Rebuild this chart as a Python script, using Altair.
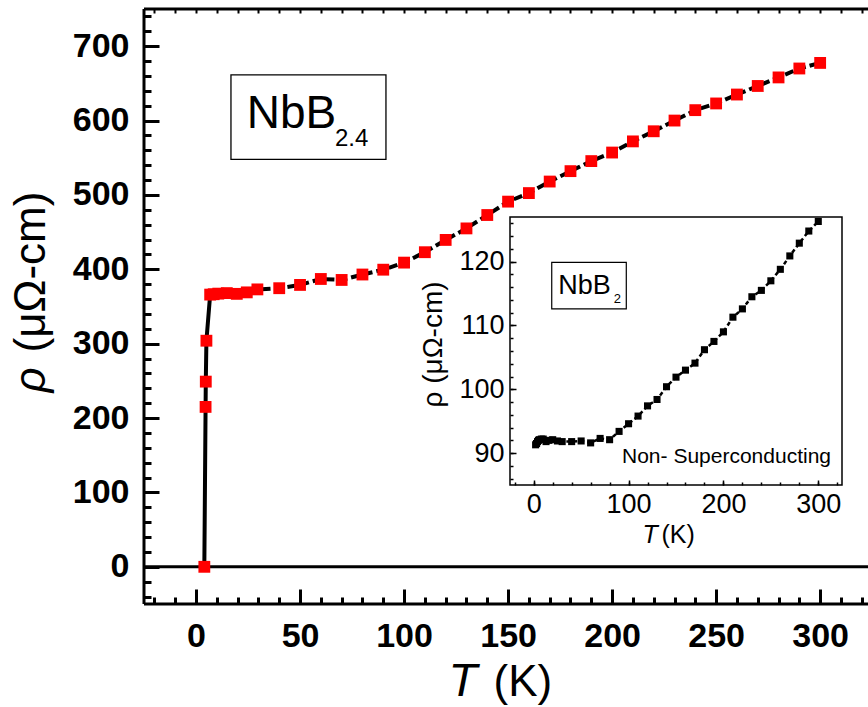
import altair as alt
import pandas as pd

FONT = "Liberation Sans"

# ---------------- data: main sample NbB2.4 ----------------
main_T = [4.0, 4.6, 4.7, 5.0, 6.8, 8.5, 10.7, 14.8, 19.6, 24.4, 29.5,
          40, 50, 60, 70, 80, 90, 100, 110, 120, 130, 140, 150, 160, 170,
          180, 190, 200, 210, 220, 230, 240, 250, 260, 270, 280, 290, 300]
main_rho = [0, 215, 249, 304, 366, 366.5, 367.3, 368, 367, 369, 373,
            374.6, 379, 387, 385.7, 393, 399.5, 409, 423, 439.5, 455, 473, 491, 502.5, 518,
            532, 545.5, 557, 572, 585.6, 600, 614, 623, 635, 646.5, 658, 670, 677.5]

# ---------------- data: inset NbB2 ----------------
inset_T = [2, 3, 4, 5, 6, 8, 10, 13, 16, 20, 25,
           30, 40, 50, 60, 70, 80, 90, 100, 110, 120, 130, 140, 150, 160,
           170, 180, 190, 200, 210, 220, 230, 240, 250, 260, 270, 280, 290, 300]
inset_rho = [91.3, 91.5, 91.8, 92.0, 92.1, 92.2, 92.2, 91.8, 92.0, 92.1, 91.9,
             91.8, 91.8, 91.9, 91.6, 92.3, 92.1, 93.4, 94.6, 95.8, 97.4, 98.4, 100.4, 101.9, 103.0,
             104.1, 106.2, 107.5, 109.0, 111.3, 112.6, 114.5, 115.5, 117.0, 118.8, 120.9, 122.9, 124.8, 126.3]

# ---------------- ticks ----------------
main_x_major = [0, 50, 100, 150, 200, 250, 300]
main_x_minor = list(range(-20, 330, 10))
main_y_major = [0, 100, 200, 300, 400, 500, 600, 700]
main_y_minor = list(range(-40, 750, 20))
inset_x_major = [0, 100, 200, 300]
inset_x_minor = list(range(-20, 330, 20))
inset_y_major = [90, 100, 110, 120]
inset_y_minor = list(range(86, 128, 2))

W, H = 724, 595

MX = alt.Scale(domain=[-25, 323], nice=False, zero=False)
MY = alt.Scale(domain=[-50, 750], nice=False, zero=False)
IX = alt.Scale(domain=[-25, 325], range=[366, 698], nice=False, zero=False)
IY = alt.Scale(domain=[85, 127], range=[476, 208], nice=False, zero=False)

main_df = pd.DataFrame({"T": main_T, "rho": main_rho})
trans_df = main_df.iloc[:5]
dash_df = main_df.iloc[4:]
inset_df = pd.DataFrame({"T": inset_T, "rho": inset_rho})
one = pd.DataFrame({"a": [0]})

common = dict(grid=False, domain=False, tickColor="black", labelColor="black",
              labelFont=FONT, titleFont=FONT, titleColor="black", zindex=1,
              labelFlush=False, labelOverlap=False, format="d")

# main axes
ax_mx_major = alt.Axis(orient="bottom", offset=-15, tickSize=15, tickWidth=3, values=main_x_major,
                       labelFontSize=34, labelFontWeight="bold", labelPadding=15,
                       title="T", titleFontSize=47, titleFontStyle="italic", titleFontWeight="normal",
                       titleX=304, titleY=106, titleAlign="left", titleBaseline="alphabetic", **common)
ax_mx_minor = alt.Axis(orient="bottom", offset=-7, tickSize=7, tickWidth=3, values=main_x_minor,
                       labels=False, title="(K)", titleFontSize=44, titleFontWeight="normal",
                       titleX=349, titleY=98, titleAlign="left", titleBaseline="alphabetic", **common)
ax_mx_top = alt.Axis(orient="top", offset=-4, tickSize=4, tickWidth=2, values=main_x_minor,
                     labels=False, title="", **common)
ax_my_major = alt.Axis(orient="left", offset=-15, tickSize=15, tickWidth=3, values=main_y_major,
                       labelFontSize=34, labelFontWeight="bold", labelPadding=15,
                       title="ρ", titleFontSize=44, titleFontStyle="italic", titleFontWeight="normal",
                       titleAngle=270, titleX=-115, titleY=383, titleAlign="left",
                       titleBaseline="alphabetic", **common)
ax_my_minor = alt.Axis(orient="left", offset=-7, tickSize=7, tickWidth=3, values=main_y_minor,
                       labels=False, title="(μΩ-cm)", titleFontSize=44, titleFontWeight="normal",
                       titleAngle=270, titleX=-107, titleY=343, titleAlign="left",
                       titleBaseline="alphabetic", **common)

# inset axes
ax_ix_major = alt.Axis(orient="bottom", offset=-124, tickSize=5, tickWidth=1.5, values=inset_x_major,
                       labelFontSize=27, labelFontWeight="normal", labelPadding=6,
                       title="T", titleFontSize=25, titleFontStyle="italic", titleFontWeight="normal",
                       titleX=498, titleY=62, titleAlign="left", titleBaseline="alphabetic", **common)
ax_ix_minor = alt.Axis(orient="bottom", offset=-122, tickSize=3, tickWidth=1.5, values=inset_x_minor,
                       labels=False, title="(K)", titleFontSize=25, titleFontWeight="normal",
                       titleX=517, titleY=60, titleAlign="left", titleBaseline="alphabetic", **common)
ax_iy_major = alt.Axis(orient="left", offset=-372, tickSize=6, tickWidth=1.5, values=inset_y_major,
                       labelFontSize=27, labelFontWeight="normal", labelPadding=6,
                       title="ρ (μΩ-cm)", titleFontSize=28, titleFontWeight="normal",
                       titleAngle=270, titleX=-75, titleY=335, titleAlign="center",
                       titleBaseline="alphabetic", **common)
ax_iy_minor = alt.Axis(orient="left", offset=-369, tickSize=3, tickWidth=1.5, values=inset_y_minor,
                       labels=False, title="", **common)

layers = []

# frame of the main panel
layers.append(alt.Chart(one).mark_rule(color="black", strokeWidth=3).encode(
    y=alt.Y(datum=-50, scale=MY, axis=None)))
layers.append(alt.Chart(one).mark_rule(color="black", strokeWidth=3).encode(
    y=alt.Y(datum=750, scale=MY, axis=None)))
layers.append(alt.Chart(one).mark_rule(color="black", strokeWidth=3).encode(
    x=alt.X(datum=-25, scale=MX, axis=None)))
# zero line
layers.append(alt.Chart(one).mark_rule(color="black", strokeWidth=3).encode(
    y=alt.Y(datum=0, scale=MY, axis=None)))

# main curve
layers.append(alt.Chart(dash_df).mark_line(color="black", strokeWidth=4, strokeDash=[9, 4]).encode(
    x=alt.X("T:Q", scale=MX, axis=ax_mx_major),
    y=alt.Y("rho:Q", scale=MY, axis=ax_my_major)))
layers.append(alt.Chart(trans_df).mark_line(color="black", strokeWidth=4).encode(
    x=alt.X("T:Q", scale=MX, axis=ax_mx_minor),
    y=alt.Y("rho:Q", scale=MY, axis=ax_my_minor)))
layers.append(alt.Chart(main_df).mark_point(shape="square", filled=True, color="#ff0000",
                                            size=140, opacity=1).encode(
    x=alt.X("T:Q", scale=MX, axis=ax_mx_top),
    y=alt.Y("rho:Q", scale=MY, axis=None)))

# label box NbB2.4
layers.append(alt.Chart(one).mark_rect(fill="white", stroke="black", strokeWidth=1.3).encode(
    x=alt.X(datum=16.8, scale=MX, axis=None), x2=alt.X2(datum=91.3),
    y=alt.Y(datum=547.9, scale=MY, axis=None), y2=alt.Y2(datum=661.3)))
layers.append(alt.Chart(one).mark_text(text="NbB", font=FONT, fontSize=46, align="left",
                                       baseline="alphabetic", color="black").encode(
    x=alt.X(datum=24.4, scale=MX, axis=None), y=alt.Y(datum=589.6, scale=MY, axis=None)))
layers.append(alt.Chart(one).mark_text(text="2.4", font=FONT, fontSize=24, align="left",
                                       baseline="alphabetic", color="black").encode(
    x=alt.X(datum=66.8, scale=MX, axis=None), y=alt.Y(datum=565.8, scale=MY, axis=None)))

# inset frame
layers.append(alt.Chart(one).mark_rect(fill="white", stroke="black", strokeWidth=1.5).encode(
    x=alt.X(datum=-25, scale=IX, axis=None), x2=alt.X2(datum=325),
    y=alt.Y(datum=85, scale=IY, axis=None), y2=alt.Y2(datum=127)))
layers.append(alt.Chart(inset_df).mark_line(color="black", strokeWidth=2.5, strokeDash=[4, 3]).encode(
    x=alt.X("T:Q", scale=IX, axis=ax_ix_major),
    y=alt.Y("rho:Q", scale=IY, axis=ax_iy_major)))
layers.append(alt.Chart(inset_df).mark_point(shape="square", filled=True, color="black",
                                             size=50, opacity=1).encode(
    x=alt.X("T:Q", scale=IX, axis=ax_ix_minor),
    y=alt.Y("rho:Q", scale=IY, axis=ax_iy_minor)))

# inset label box NbB2
layers.append(alt.Chart(one).mark_rect(fill="white", stroke="black", strokeWidth=1.2).encode(
    x=alt.X(datum=19.0, scale=IX, axis=None), x2=alt.X2(datum=97.6),
    y=alt.Y(datum=112.6, scale=IY, axis=None), y2=alt.Y2(datum=119.9)))
layers.append(alt.Chart(one).mark_text(text="NbB", font=FONT, fontSize=27, align="left",
                                       baseline="alphabetic", color="black").encode(
    x=alt.X(datum=25.9, scale=IX, axis=None), y=alt.Y(datum=114.9, scale=IY, axis=None)))
layers.append(alt.Chart(one).mark_text(text="2", font=FONT, fontSize=13, align="left",
                                       baseline="alphabetic", color="black").encode(
    x=alt.X(datum=84.3, scale=IX, axis=None), y=alt.Y(datum=113.5, scale=IY, axis=None)))
layers.append(alt.Chart(one).mark_text(text="Non- Superconducting", font=FONT, fontSize=21,
                                       align="right", baseline="alphabetic", color="black").encode(
    x=alt.X(datum=313.4, scale=IX, axis=None), y=alt.Y(datum=88.4, scale=IY, axis=None)))

chart = alt.layer(*layers).resolve_scale(
    x="independent", y="independent"
).resolve_axis(
    x="independent", y="independent"
).properties(
    width=W, height=H,
    autosize=alt.AutoSizeParams(type="none"),
    padding={"left": 144, "right": 0, "top": 9, "bottom": 103},
    background="white",
).configure_view(stroke=None)

chart.save("out.html", embed_options={"renderer": "svg", "actions": False})
